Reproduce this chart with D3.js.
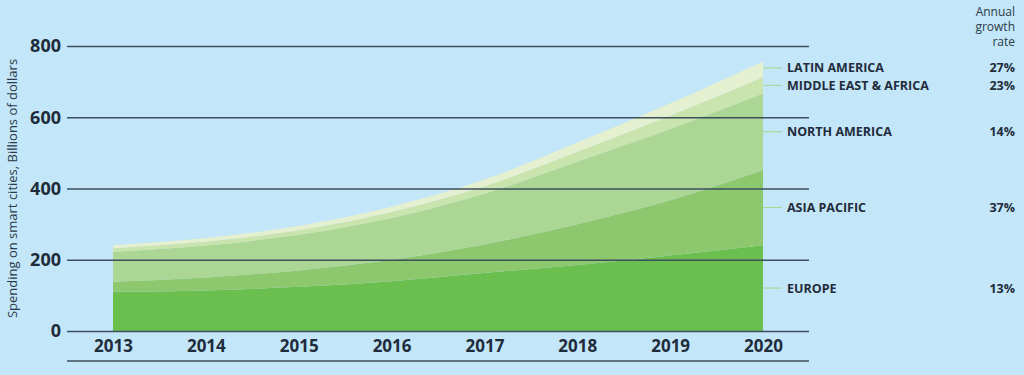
<!DOCTYPE html>
<html>
<head>
<meta charset="utf-8">
<script src="https://cdn.jsdelivr.net/npm/d3@7"></script>
<style>
  body { margin: 0; background: #c3e6f8; }
  svg { display: block; font-family: "Open Sans", sans-serif; }
</style>
</head>
<body>
<div id="chart"></div>
<script>
// data, billions of dollars
const years = [2013, 2014, 2015, 2016, 2017, 2018, 2019, 2020];
const europe = [110, 114, 124, 140, 163, 185, 212, 241];
const asiaPacific = [28, 36, 46, 60, 80, 115, 155, 211];
const northAmerica = [84, 90, 100, 117, 142, 175, 200, 215];
const middleEastAfrica = [10, 11, 13, 17, 21, 28, 37, 45];
const latinAmerica = [9, 10, 12, 15, 19, 26, 35, 44];
const regions = ["EUROPE", "ASIA PACIFIC", "NORTH AMERICA", "MIDDLE EAST & AFRICA", "LATIN AMERICA"];
const growth = ["13%", "37%", "14%", "23%", "27%"];
const yTicks = [0, 200, 400, 600, 800];

const colors = ["#6abf4e", "#8dc86f", "#acd693", "#c9e4ad", "#e5f0d1"];
const ink = "#1f2c3b";

const width = 1024, height = 375;
const gridLeft = 67, gridRight = 809;

const svg = d3.select("#chart").append("svg")
  .attr("width", width)
  .attr("height", height);

// table for the stack
const series = [europe, asiaPacific, northAmerica, middleEastAfrica, latinAmerica];
const table = years.map((yr, i) => {
  const row = { year: yr };
  regions.forEach((r, j) => row[r] = series[j][i]);
  return row;
});
const stacked = d3.stack().keys(regions)(table);

const x = d3.scaleLinear().domain([2013, 2020]).range([113, 763]);
const y = d3.scaleLinear().domain([0, 800]).range([331, 46]);

// areas
const area = d3.area()
  .curve(d3.curveMonotoneX)
  .x(d => x(d.data.year))
  .y0(d => y(d[0]))
  .y1(d => y(d[1]));

svg.append("g")
  .selectAll("path")
  .data(stacked)
  .enter()
  .append("path")
  .attr("d", area)
  .attr("fill", (d, i) => colors[i]);

// y axis + gridlines
const yAxis = svg.append("g")
  .attr("transform", "translate(" + gridLeft + ",0)")
  .call(d3.axisLeft(y).tickValues(yTicks).tickSize(-(gridRight - gridLeft)).tickPadding(6));
yAxis.select(".domain").remove();
yAxis.selectAll("line").attr("stroke", "#3d4f5c").attr("stroke-width", 1.3);
yAxis.selectAll("text")
  .attr("fill", ink)
  .style("font-size", "18px")
  .style("font-weight", 700)
  .style("font-family", "'Open Sans', sans-serif");

// x axis
const xAxis = svg.append("g")
  .attr("transform", "translate(0," + y(0) + ")")
  .call(d3.axisBottom(x).tickValues(years).tickFormat(d3.format("d")).tickSize(0).tickPadding(9));
xAxis.select(".domain").remove();
xAxis.selectAll("text")
  .attr("fill", ink)
  .style("font-size", "17px")
  .style("font-weight", 700)
  .style("font-family", "'Open Sans', sans-serif");

// bottom rule
svg.append("line")
  .attr("x1", gridLeft).attr("x2", gridRight)
  .attr("y1", 361).attr("y2", 361)
  .attr("stroke", "#3d4f5c").attr("stroke-width", 1.3);

// y axis title
svg.append("text")
  .attr("transform", "translate(17," + y(400) + ") rotate(-90)")
  .attr("text-anchor", "middle")
  .attr("fill", "#2c3a48")
  .style("font-size", "13px")
  .text("Spending on smart cities, Billions of dollars");

// region labels at the middle of each band in 2020, pushed apart if too close
const last = years.length - 1;
const labelY = stacked.map(s => y((s[last][0] + s[last][1]) / 2));
for (let i = 1; i < labelY.length; i++) {
  if (labelY[i - 1] - labelY[i] < 17.5) labelY[i] = labelY[i - 1] - 17.5;
}
const labels = svg.append("g");
stacked.forEach((s, i) => {
  const ly = labelY[i];
  labels.append("line")
    .attr("x1", x(2020)).attr("x2", 782)
    .attr("y1", ly).attr("y2", ly)
    .attr("stroke", "#a5d68c").attr("stroke-width", 1);
  labels.append("text")
    .attr("x", 787).attr("y", ly)
    .attr("dy", "0.36em")
    .attr("fill", ink)
    .style("font-size", "12.5px")
    .style("font-weight", 700)
    .text(regions[i]);
  labels.append("text")
    .attr("x", 1015).attr("y", ly)
    .attr("dy", "0.36em")
    .attr("text-anchor", "end")
    .attr("fill", ink)
    .style("font-size", "12.5px")
    .style("font-weight", 700)
    .text(growth[i]);
});

// growth rate header
["Annual", "growth", "rate"].forEach((t, i) => {
  svg.append("text")
    .attr("x", 1015)
    .attr("y", 16 + i * 15)
    .attr("text-anchor", "end")
    .attr("fill", "#2c3a48")
    .style("font-size", "12px")
    .text(t);
});
</script>
</body>
</html>
